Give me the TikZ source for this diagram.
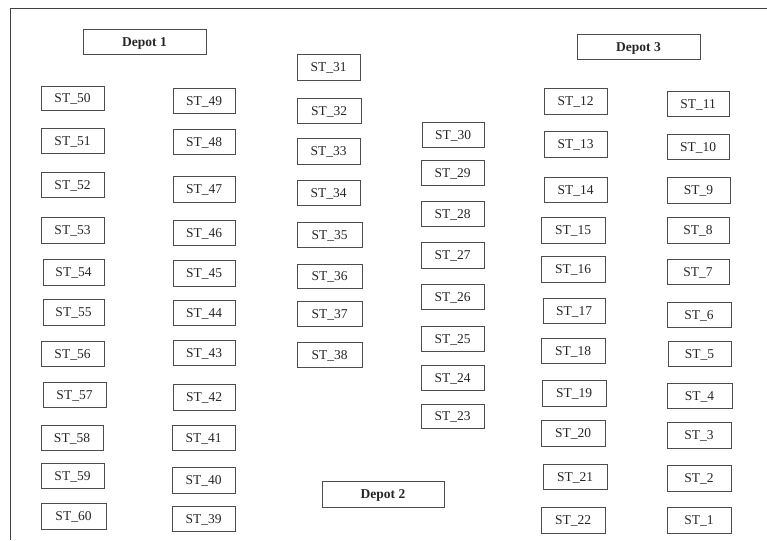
\documentclass[tikz,border=0pt]{standalone}
\usepackage{fontspec}
\setmainfont{Liberation Serif}
\begin{document}
\begin{tikzpicture}[x=1pt,y=-1pt,
  stbox/.style={draw=black!70, line width=0.9pt, inner sep=0pt, text height=9.3pt, text depth=0pt,
    font=\fontsize{13.5}{15}\selectfont, text=black!85},
  depotbox/.style={stbox, font=\fontsize{13.5}{15}\selectfont\bfseries}]
\useasboundingbox (0,0) rectangle (767,540);
% open frame: top and left edges only
\draw[black!75, line width=0.9pt] (767,8) -- (10,8) -- (10,540);
% box given by its corners: name, x1, y1, x2, y2, style, text
\newcommand{\placebox}[7]{%
  \node[#6, minimum width={#4pt-#2pt}, minimum height={#5pt-#3pt}]
    (#1) at ({(#2+#4)/2},{(#3+#5)/2}) {#7};}
% depots
\placebox{d1}{83}{29}{206}{54}{depotbox}{Depot 1}
\placebox{d2}{322}{481}{444}{507}{depotbox}{Depot 2}
\placebox{d3}{577}{34}{700}{59}{depotbox}{Depot 3}
% column 1
\placebox{st50}{41}{86}{104}{110}{stbox}{ST\_50}
\placebox{st51}{41}{128}{104}{153}{stbox}{ST\_51}
\placebox{st52}{41}{172}{104}{197}{stbox}{ST\_52}
\placebox{st53}{41}{217}{104}{243}{stbox}{ST\_53}
\placebox{st54}{43}{259}{104}{285}{stbox}{ST\_54}
\placebox{st55}{43}{299}{104}{325}{stbox}{ST\_55}
\placebox{st56}{41}{341}{104}{366}{stbox}{ST\_56}
\placebox{st57}{43}{382}{106}{407}{stbox}{ST\_57}
\placebox{st58}{41}{425}{103}{450}{stbox}{ST\_58}
\placebox{st59}{41}{463}{104}{488}{stbox}{ST\_59}
\placebox{st60}{41}{503}{106}{529}{stbox}{ST\_60}
% column 2
\placebox{st49}{173}{88}{235}{113}{stbox}{ST\_49}
\placebox{st48}{173}{129}{235}{154}{stbox}{ST\_48}
\placebox{st47}{173}{176}{235}{202}{stbox}{ST\_47}
\placebox{st46}{173}{220}{235}{245}{stbox}{ST\_46}
\placebox{st45}{173}{260}{235}{286}{stbox}{ST\_45}
\placebox{st44}{173}{300}{235}{325}{stbox}{ST\_44}
\placebox{st43}{173}{340}{235}{365}{stbox}{ST\_43}
\placebox{st42}{173}{384}{235}{410}{stbox}{ST\_42}
\placebox{st41}{172}{425}{235}{450}{stbox}{ST\_41}
\placebox{st40}{172}{467}{235}{493}{stbox}{ST\_40}
\placebox{st39}{172}{506}{235}{531}{stbox}{ST\_39}
% column 3
\placebox{st31}{297}{54}{360}{80}{stbox}{ST\_31}
\placebox{st32}{297}{98}{361}{123}{stbox}{ST\_32}
\placebox{st33}{297}{138}{360}{164}{stbox}{ST\_33}
\placebox{st34}{297}{180}{360}{205}{stbox}{ST\_34}
\placebox{st35}{297}{222}{362}{247}{stbox}{ST\_35}
\placebox{st36}{297}{264}{362}{288}{stbox}{ST\_36}
\placebox{st37}{297}{301}{362}{326}{stbox}{ST\_37}
\placebox{st38}{297}{342}{362}{367}{stbox}{ST\_38}
% column 4
\placebox{st30}{422}{122}{484}{147}{stbox}{ST\_30}
\placebox{st29}{421}{160}{484}{185}{stbox}{ST\_29}
\placebox{st28}{421}{201}{484}{226}{stbox}{ST\_28}
\placebox{st27}{421}{242}{484}{268}{stbox}{ST\_27}
\placebox{st26}{421}{284}{484}{309}{stbox}{ST\_26}
\placebox{st25}{421}{326}{484}{351}{stbox}{ST\_25}
\placebox{st24}{421}{365}{484}{390}{stbox}{ST\_24}
\placebox{st23}{421}{404}{484}{428}{stbox}{ST\_23}
% column 5
\placebox{st12}{544}{88}{607}{114}{stbox}{ST\_12}
\placebox{st13}{544}{131}{607}{157}{stbox}{ST\_13}
\placebox{st14}{544}{177}{607}{202}{stbox}{ST\_14}
\placebox{st15}{541}{217}{605}{243}{stbox}{ST\_15}
\placebox{st16}{541}{256}{605}{282}{stbox}{ST\_16}
\placebox{st17}{543}{298}{605}{323}{stbox}{ST\_17}
\placebox{st18}{541}{338}{605}{363}{stbox}{ST\_18}
\placebox{st19}{542}{380}{606}{406}{stbox}{ST\_19}
\placebox{st20}{541}{420}{605}{446}{stbox}{ST\_20}
\placebox{st21}{543}{464}{607}{489}{stbox}{ST\_21}
\placebox{st22}{541}{507}{605}{533}{stbox}{ST\_22}
% column 6
\placebox{st11}{667}{91}{729}{116}{stbox}{ST\_11}
\placebox{st10}{667}{134}{729}{159}{stbox}{ST\_10}
\placebox{st9}{667}{177}{730}{203}{stbox}{ST\_9}
\placebox{st8}{667}{217}{729}{243}{stbox}{ST\_8}
\placebox{st7}{667}{259}{729}{284}{stbox}{ST\_7}
\placebox{st6}{667}{302}{731}{327}{stbox}{ST\_6}
\placebox{st5}{668}{341}{731}{366}{stbox}{ST\_5}
\placebox{st4}{667}{383}{732}{408}{stbox}{ST\_4}
\placebox{st3}{667}{422}{731}{448}{stbox}{ST\_3}
\placebox{st2}{667}{465}{731}{491}{stbox}{ST\_2}
\placebox{st1}{667}{507}{731}{533}{stbox}{ST\_1}
\end{tikzpicture}
\end{document}
